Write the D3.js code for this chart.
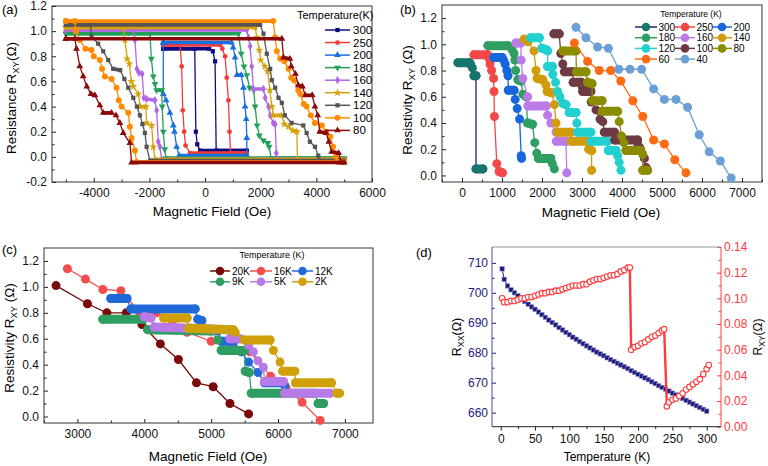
<!DOCTYPE html>
<html><head><meta charset="utf-8">
<script src="https://cdn.jsdelivr.net/npm/d3@7"></script>
<style>body{margin:0;background:#fff}svg{display:block}</style>
</head><body><script>
// ---------------- DATA ----------------
// (a) hysteresis loops
const aTemps = ['300','250','200','180','160','140','120','100','80'];
const aHmax = [1500,1500,1500,5000,5000,5000,5000,5000,5000];
const aTop = [0.86,0.89,0.91,0.98,1.01,1.03,1.05,1.08,0.94];
const aBottom = [0.05,0.03,0.01,-0.01,-0.02,-0.02,-0.03,-0.04,-0.045];
const aDown = [
 [[150,0.86],[280,0.84],[360,0.76],[400,0.05]],
 [[550,0.89],[620,0.86],[720,0.8],[780,0.63],[840,0.45],[880,0.2],[920,0.03]],
 [[950,0.91],[1010,0.87],[1080,0.79],[1150,0.65],[1300,0.65],[1380,0.55],[1440,0.4],[1480,0.3],[1500,0.15],[1500,0.01]],
 [[1200,0.98],[1300,0.82],[1400,0.72],[1500,0.65],[1600,0.55],[1750,0.53],[1800,0.4],[1870,0.25],[1950,0.17],[2100,0.13],[2250,0.11],[2300,0.08],[2380,-0.01]],
 [[1500,1.01],[1560,0.95],[1620,0.88],[1680,0.72],[1740,0.54],[2100,0.54],[2160,0.47],[2280,0.4],[2340,0.33],[2450,0.27],[2520,0.26],[2560,0.03],[2600,-0.02]],
 [[1800,1.03],[1860,0.95],[1950,0.85],[2000,0.77],[2150,0.72],[2250,0.68],[2330,0.53],[2400,0.4],[2450,0.33],[2750,0.33],[2850,0.26],[3000,0.24],[3150,0.21],[3300,0.2],[3320,-0.02]],
 [[1980,1.05],[2100,0.98],[2220,0.82],[2340,0.7],[2400,0.61],[2520,0.55],[2640,0.47],[2760,0.43],[2870,0.33],[3110,0.27],[3530,0.25],[3650,0.19],[3770,0.12],[3950,0.08],[4070,0.01],[4100,-0.03]],
 [[2450,1.08],[2520,0.95],[2580,0.84],[2700,0.78],[2850,0.76],[3000,0.7],[3100,0.63],[3200,0.61],[3350,0.53],[3420,0.5],[3550,0.42],[3650,0.4],[3800,0.33],[3950,0.27],[4200,0.25],[4350,0.2],[4500,0.16],[4600,0.08],[4700,0.0],[4750,-0.04]],
 [[2760,0.94],[2820,0.79],[3050,0.78],[3100,0.72],[3250,0.66],[3350,0.57],[3500,0.56],[3600,0.49],[3850,0.49],[3950,0.4],[4050,0.33],[4120,0.2],[4350,0.19],[4450,0.12],[4550,0.04],[4800,0.03],[4880,-0.045]]
];
const aUp = [
 [[-180,0.05],[-280,0.1],[-330,0.2],[-370,0.86]],
 [[-540,0.03],[-700,0.09],[-750,0.2],[-800,0.37],[-840,0.72],[-900,0.89]],
 [[-930,0.01],[-1020,0.08],[-1100,0.2],[-1140,0.25],[-1260,0.35],[-1400,0.45],[-1500,0.5],[-1500,0.91]],
 [[-1400,-0.01],[-1450,0.06],[-1500,0.2],[-1540,0.4],[-1560,0.53],[-1740,0.53],[-1800,0.58],[-1860,0.64],[-1930,0.78],[-1980,0.98]],
 [[-1560,-0.02],[-1620,0.08],[-1680,0.12],[-1740,0.37],[-1800,0.45],[-2100,0.46],[-2200,0.47],[-2260,0.66],[-2380,0.67],[-2450,0.7],[-2520,0.93],[-2580,1.01]],
 [[-1800,-0.02],[-1860,0.08],[-1920,0.25],[-2100,0.27],[-2130,0.4],[-2330,0.4],[-2400,0.5],[-2580,0.56],[-2650,0.6],[-2720,0.74],[-2800,0.78],[-2880,0.93],[-2940,1.03]],
 [[-1980,-0.03],[-2100,0.08],[-2160,0.19],[-2250,0.26],[-2340,0.33],[-2450,0.4],[-2580,0.47],[-2760,0.55],[-2900,0.62],[-3050,0.69],[-3300,0.7],[-3480,0.77],[-3660,0.84],[-3840,0.9],[-4080,0.96],[-4120,1.05]],
 [[-2460,-0.04],[-2520,0.05],[-2640,0.15],[-2700,0.24],[-2760,0.35],[-3000,0.4],[-3100,0.45],[-3180,0.55],[-3360,0.62],[-3600,0.64],[-3700,0.7],[-3780,0.77],[-4000,0.8],[-4080,0.85],[-4300,0.86],[-4500,0.93],[-4640,1.0],[-4680,1.08]],
 [[-2640,-0.045],[-2700,0.11],[-2940,0.19],[-3060,0.27],[-3200,0.33],[-3360,0.35],[-3660,0.35],[-3780,0.41],[-3960,0.49],[-4100,0.5],[-4250,0.56],[-4380,0.64],[-4500,0.72],[-4620,0.86],[-4680,0.94]]
];
const aXTicks = [-4000,-2000,0,2000,4000,6000];
const aXMinor = [-5000,-3000,-1000,1000,3000,5000];
const aYTicks = [-0.2,0,0.2,0.4,0.6,0.8,1.0,1.2];
const aYMinor = [-0.1,0.1,0.3,0.5,0.7,0.9,1.1];

// (b) switching curves
const bTemps = ['300','250','200','180','160','140','120','100','80','60','40'];
const b300 = [[-100,0.86],[180,0.86],[210,0.85],[260,0.82],[300,0.76],[350,0.76],[350,0.05],[520,0.05]];
const b250 = [[300,0.92],[640,0.92],[680,0.89],[700,0.85],[740,0.8],[790,0.74],[800,0.64],[810,0.45],[870,0.09],[930,0.03],[1010,0.02]];
const b200 = [[800,0.9],[1000,0.9],[1040,0.88],[1080,0.85],[1120,0.8],[1150,0.76],[1160,0.65],[1300,0.65],[1330,0.58],[1380,0.51],[1440,0.43],[1480,0.15],[1490,0.13]];
const b180 = [[650,0.99],[1150,0.99],[1250,0.96],[1300,0.93],[1320,0.88],[1340,0.8],[1400,0.73],[1480,0.72],[1520,0.62],[1600,0.6],[1640,0.4],[1760,0.39],[1820,0.25],[1870,0.17],[1910,0.13],[2220,0.13],[2260,0.09],[2310,0.05]];
const b160 = [[1350,1.01],[1470,1.01],[1480,0.88],[1520,0.74],[1640,0.6],[1650,0.53],[2100,0.53],[2140,0.46],[2220,0.4],[2350,0.33],[2360,0.26],[2600,0.26],[2620,0.02]];
const b140 = [[1550,1.04],[1650,1.02],[1800,0.95],[1850,0.8],[1880,0.74],[2020,0.73],[2100,0.69],[2130,0.64],[2250,0.63],[2310,0.54],[2350,0.4],[2390,0.33],[2720,0.33],[2730,0.26],[3140,0.26],[3170,0.2],[3240,0.19],[3240,0.04]];
const b120 = [[1720,1.05],[1930,1.05],[2000,0.97],[2100,0.96],[2140,0.95],[2140,0.83],[2260,0.83],[2270,0.77],[2340,0.71],[2390,0.64],[2450,0.6],[2520,0.55],[2600,0.54],[2680,0.48],[2850,0.48],[2870,0.4],[2890,0.33],[3220,0.33],[3230,0.26],[3640,0.26],[3660,0.19],[3850,0.19],[3890,0.15],[3930,0.1],[3975,0.04]];
const b100 = [[2300,1.08],[2430,1.08],[2470,0.93],[2520,0.85],[2560,0.79],[2770,0.79],[2780,0.71],[2980,0.71],[3010,0.67],[3020,0.64],[3220,0.64],[3230,0.56],[3350,0.5],[3450,0.43],[3520,0.41],[3560,0.33],[3810,0.33],[3820,0.27],[4390,0.27],[4400,0.23],[4450,0.21],[4560,0.13],[4600,0.06],[4620,0.05]];
const b80 = [[2520,0.95],[2850,0.95],[2860,0.79],[3100,0.79],[3140,0.71],[3250,0.7],[3260,0.57],[3500,0.57],[3510,0.49],[3890,0.49],[3930,0.41],[3990,0.3],[4050,0.25],[4100,0.19],[4470,0.19],[4520,0.16],[4520,0.04],[4640,0.04]];
const b60 = [[2810,1.01],[3140,0.87],[3430,0.8],[3720,0.8],[3970,0.72],[4270,0.57],[4520,0.45],[4790,0.27],[5060,0.24],[5320,0.12],[5600,0.02]];
const b40 = [[2850,1.13],[3100,1.05],[3390,0.98],[3660,0.97],[3920,0.81],[4200,0.81],[4490,0.81],[4790,0.66],[5060,0.58],[5350,0.58],[5640,0.52],[5930,0.31],[6180,0.18],[6460,0.11],[6730,-0.02]];
const bXTicks = [0,1000,2000,3000,4000,5000,6000,7000];
const bXMinor = [-500,500,1500,2500,3500,4500,5500,6500,7500];
const bYTicks = [0,0.2,0.4,0.6,0.8,1.0,1.2];
const bYMinor = [0.1,0.3,0.5,0.7,0.9,1.1];

// (c) low temperature switching
const cTemps = ['20K','16K','12K','9K','5K','2K'];
const c20 = [[2680,1.01],[3150,0.87],[3440,0.8],[3730,0.8],[3965,0.71],[4240,0.56],[4510,0.44],[4780,0.26],[5030,0.23],[5280,0.1],[5560,0.02]];
const c16 = [[2850,1.14],[3120,1.06],[3380,0.98],[3650,0.97],[3920,0.81],[4180,0.8],[4420,0.74],[4640,0.65],[5000,0.58],[5300,0.56],[5580,0.5],[5890,0.31],[6120,0.22],[6360,0.11],[6630,-0.03]];
const c12 = [[3500,0.91],[3740,0.91],[3800,0.83],[4760,0.83],[4800,0.75],[4860,0.74],[4900,0.68],[5100,0.66],[5160,0.58],[5340,0.58],[5450,0.5],[5560,0.42],[5700,0.34],[5800,0.26],[6080,0.26],[6100,0.24]];
const c9 = [[3380,0.75],[3980,0.75],[4050,0.67],[5000,0.66],[5100,0.59],[5150,0.51],[5500,0.51],[5510,0.35],[5570,0.34],[5600,0.18],[6550,0.18],[6600,0.1],[6680,0.1]];
const c5 = [[4000,0.77],[4100,0.76],[4150,0.69],[4700,0.68],[5250,0.67],[5280,0.6],[5430,0.6],[5560,0.55],[5630,0.5],[5700,0.43],[5780,0.38],[5800,0.27],[6080,0.27],[6100,0.18],[6780,0.18]];
const c2 = [[4290,0.76],[4640,0.76],[4660,0.68],[5330,0.67],[5360,0.65],[5500,0.59],[5880,0.59],[5930,0.51],[6030,0.42],[6070,0.35],[6250,0.35],[6260,0.26],[6800,0.26],[6880,0.18],[6920,0.18]];
const cXTicks = [3000,4000,5000,6000,7000];
const cXMinor = [2500,3500,4500,5500,6500];
const cYTicks = [0,0.2,0.4,0.6,0.8,1.0,1.2];
const cYMinor = [0.1,0.3,0.5,0.7,0.9,1.1];

// (d) temperature dependence
const dT = [2,5,10,15,20,25,30,35,40,45,50,55,60,65,70,75,80,85,90,95,100,105,110,115,120,125,130,135,140,145,150,155,160,165,170,175,180,185,190,195,200,205,210,215,220,225,230,235,240,245,250,255,260,265,270,275,280,285,290,295,300];
const dRxx = [708,704.5,702.3,701,700,699,698,697.1,696.2,695.3,694.5,693.6,692.7,691.8,690.9,690.1,689.3,688.4,687.6,686.8,686,685.2,684.5,683.7,683,682.3,681.6,680.9,680.2,679.6,679,678.3,677.7,677.1,676.5,675.9,675.3,674.7,674,673.4,672.8,672.2,671.6,671,670.3,669.7,669,668.4,667.8,667.2,666.5,665.9,665.3,664.7,664.1,663.5,662.9,662.3,661.7,661.1,660.5];
const dTxy = [2,5,10,15,20,25,30,35,40,45,50,55,60,65,70,75,80,85,90,95,100,105,110,115,120,125,130,135,140,145,150,155,160,165,170,175,180,185,188,190,195,200,205,210,215,220,225,230,235,238,242,245,250,255,260,265,270,275,280,285,290,295,300,303];
const dRxy = [0.100,0.097,0.097,0.098,0.098,0.099,0.100,0.100,0.101,0.101,0.102,0.103,0.104,0.104,0.105,0.105,0.106,0.106,0.107,0.108,0.109,0.110,0.110,0.110,0.111,0.111,0.113,0.114,0.115,0.115,0.116,0.117,0.118,0.118,0.119,0.121,0.122,0.124,0.124,0.060,0.062,0.063,0.065,0.066,0.068,0.070,0.071,0.073,0.075,0.076,0.016,0.019,0.021,0.022,0.024,0.026,0.029,0.031,0.033,0.035,0.037,0.041,0.045,0.048];
const dXTicks = [0,50,100,150,200,250,300];
const dXMinor = [25,75,125,175,225,275];
const dLTicks = [660,670,680,690,700,710];
const dLMinor = [665,675,685,695,705];
const dRTicks = [0,0.02,0.04,0.06,0.08,0.10,0.12,0.14];
const dRMinor = [0.01,0.03,0.05,0.07,0.09,0.11,0.13];

// ---------------- DRAW ----------------
const FONT = '"Liberation Sans", Arial, Helvetica, sans-serif';
const svg = d3.select('body').append('svg').attr('width',768).attr('height',466)
  .attr('font-family',FONT);

function txt(x,y,s,o={}){
  const t = svg.append('text').attr('x',x).attr('y',y).text(s)
    .attr('font-size',o.fs||12).attr('fill',o.fill||'#000').attr('text-anchor',o.anchor||'start');
  return t;
}
function subTitle(x,y,parts,fs,rot){
  const t = svg.append('text').attr('transform',`translate(${x},${y})${rot?' rotate(-90)':''}`)
    .attr('text-anchor','middle').attr('font-size',fs).attr('fill','#000');
  parts.forEach(p=>{
    const ts = t.append('tspan').text(p.t);
    if(p.sub){ ts.attr('font-size',fs*0.7).attr('dy',fs*0.25); }
    if(p.after){ ts.attr('dy',-fs*0.25); }
  });
}
function box(p){
  const g = svg.append('g');
  const [xl,xr] = p.x.range(), [yb,yt] = p.y.range();
  const s = p.inward ? -1 : 1;
  g.append('g').attr('transform',`translate(0,${yb})`)
    .call(d3.axisBottom(p.x).tickValues(p.xt).tickFormat(p.xf).tickSize(4*s).tickPadding(p.xpad||6));
  g.append('g').attr('transform',`translate(0,${yb})`)
    .call(d3.axisBottom(p.x).tickValues(p.xm).tickFormat('').tickSize(2.5*s));
  g.append('g').attr('transform',`translate(${xl},0)`)
    .call(d3.axisLeft(p.y).tickValues(p.yt).tickFormat(p.yf).tickSize(4*s).tickPadding(p.ypad||5));
  g.append('g').attr('transform',`translate(${xl},0)`)
    .call(d3.axisLeft(p.y).tickValues(p.ym).tickFormat('').tickSize(2.5*s));
  g.selectAll('.domain').remove();
  g.selectAll('.tick line').attr('stroke','#222');
  g.selectAll('.tick text').attr('font-size',p.fs||12).attr('font-family',FONT).attr('fill','#111');
  g.append('rect').attr('x',xl).attr('y',yt).attr('width',xr-xl).attr('height',yb-yt)
    .attr('fill','none').attr('stroke','#333').attr('stroke-width',1);
  return g;
}
const f1 = d=>d.toFixed(1);
const fi = d=>String(d);

// ===== Panel (a) =====
const xa = d3.scaleLinear().domain([-5500,6000]).range([52,372]);
const ya = d3.scaleLinear().domain([-0.2,1.2]).range([182,6]);
box({x:xa,y:ya,xt:aXTicks,xm:aXMinor,yt:aYTicks,ym:aYMinor,xf:fi,yf:f1,inward:true,fs:12,xpad:6});
const aColors = ['#0d0d80','#f23c3c','#1a6fe0','#22a05a','#b266e6','#d4a20a','#555555','#ff8a00','#8b0a0a'];
const aSym = [d3.symbolSquare,d3.symbolCircle,d3.symbolTriangle,d3.symbolTriangle,d3.symbolDiamond,d3.symbolStar,d3.symbolSquare,d3.symbolCircle,d3.symbolTriangle];
const aRot = [0,0,0,180,0,0,0,0,0];
const aSize = [18,18,20,20,20,22,18,28,20];
const ga = svg.append('g');
aTemps.forEach((t,i)=>{
  const pts = [[-aHmax[i],aTop[i]], ...aDown[i], [aHmax[i],aBottom[i]], ...aUp[i], [-aHmax[i],aTop[i]]];
  const P = pts.map(p=>[xa(p[0]),ya(p[1])]);
  const g = ga.append('g');
  for(let k=0;k<P.length-1;k++){
    if(Math.abs(P[k][1]-P[k+1][1])<2.2){
      g.append('line').attr('x1',P[k][0]).attr('y1',P[k][1]).attr('x2',P[k+1][0]).attr('y2',P[k+1][1])
        .attr('stroke',aColors[i]).attr('stroke-width',3.6).attr('stroke-linecap','round');
    }
  }
  g.append('path').attr('d',d3.line()(P)).attr('fill','none').attr('stroke',aColors[i]).attr('stroke-width',1.3);
  const sym = d3.symbol().type(aSym[i]).size(aSize[i]);
  g.selectAll(null).data(P).enter().append('path').attr('d',sym)
    .attr('transform',d=>`translate(${d[0]},${d[1]}) rotate(${aRot[i]})`).attr('fill',aColors[i]);
});
// legend (a)
txt(297,19,'Temperature(K)',{fs:11});
aTemps.forEach((t,i)=>{
  const yy = 30 + i*12.55;
  svg.append('line').attr('x1',325).attr('x2',350).attr('y1',yy).attr('y2',yy).attr('stroke',aColors[i]).attr('stroke-width',1.5);
  svg.append('path').attr('d',d3.symbol().type(aSym[i]).size(aSize[i]))
    .attr('transform',`translate(337.5,${yy}) rotate(${aRot[i]})`).attr('fill',aColors[i]);
  txt(353,yy+4,t,{fs:11.5});
});
txt(2,14,'(a)',{fs:13});
subTitle(16,98,[{t:'Resistance R'},{t:'XY',sub:true},{t:'(Ω)',after:true}],13.5,true);
subTitle(212,216,[{t:'Magnetic Field (Oe)'}],13.5,false);

// ===== Panel (b) =====
const xb = d3.scaleLinear().domain([-500,7500]).range([442,762]);
const yb = d3.scaleLinear().domain([-0.05,1.3]).range([182,5]);
box({x:xb,y:yb,xt:bXTicks,xm:bXMinor,yt:bYTicks,ym:bYMinor,xf:fi,yf:f1,inward:true,fs:12,xpad:6});
const bSeries = [b300,b250,b200,b180,b160,b140,b120,b100,b80,b60,b40];
const bColors = ['#17756e','#f24848','#1766dc','#2e9e62','#bb7ce8','#d09c0c','#22d0d0','#6e3b44','#8c8c00','#ff6a14','#6c9fd6'];
const bLineCol = ['#1a237e','#f24848','#1766dc','#2e9e62','#bb7ce8','#d09c0c','#22d0d0','#6e3b44','#8c8c00','#ff6a14','#6c9fd6'];
const bSparse = ['60','40'];
function drawDots(g,pts,x,y,col,lineCol,dense,r){
  const P = pts.map(p=>[x(p[0]),y(p[1])]);
  g.append('path').attr('d',d3.line()(P)).attr('fill','none').attr('stroke',lineCol).attr('stroke-width',1.3);
  if(dense){
    for(let k=0;k<P.length-1;k++){
      if(Math.abs(P[k][1]-P[k+1][1])<1.5){
        g.append('line').attr('x1',P[k][0]).attr('y1',P[k][1]).attr('x2',P[k+1][0]).attr('y2',P[k+1][1])
          .attr('stroke',col).attr('stroke-width',2*r).attr('stroke-linecap','round');
      }
    }
  }
  g.selectAll(null).data(P).enter().append('circle').attr('cx',d=>d[0]).attr('cy',d=>d[1]).attr('r',r).attr('fill',col);
}
const gb = svg.append('g');
bTemps.forEach((t,i)=>{
  drawDots(gb.append('g'),bSeries[i],xb,yb,bColors[i],bLineCol[i],!bSparse.includes(t),4.5);
});
// legend (b)
txt(691,17,'Temperature (K)',{fs:8.5,anchor:'middle'});
const bColX = [[635,657],[675,695],[712,732]];
bTemps.forEach((t,i)=>{
  const c = i%3, r = Math.floor(i/3);
  const yy = 27 + r*10.7;
  const [x1,x2] = bColX[c];
  svg.append('line').attr('x1',x1).attr('x2',x2).attr('y1',yy).attr('y2',yy).attr('stroke',bLineCol[i]).attr('stroke-width',1.5);
  svg.append('circle').attr('cx',(x1+x2)/2).attr('cy',yy).attr('r',4.3).attr('fill',bColors[i]);
  txt(x2+1.5,yy+3.6,t,{fs:10});
});
txt(400,14,'(b)',{fs:13});
subTitle(412,100,[{t:'Resistivity R'},{t:'XY',sub:true},{t:' (Ω)',after:true}],13.5,true);
subTitle(601,217,[{t:'Magnetic Field (Oe)'}],13.5,false);

// ===== Panel (c) =====
const xc = d3.scaleLinear().domain([2500,7420]).range([44,373]);
const yc = d3.scaleLinear().domain([-0.05,1.3]).range([423,248]);
box({x:xc,y:yc,xt:cXTicks,xm:cXMinor,yt:cYTicks,ym:cYMinor,xf:fi,yf:f1,inward:true,fs:12,xpad:6});
const cSeries = [c20,c16,c12,c9,c5,c2];
const cColors = ['#7b0a0a','#f24e4e','#1f6ad8','#2f9e63','#b87ae6','#cfa00a'];
const cSparse = ['20K','16K'];
const gc = svg.append('g');
cTemps.forEach((t,i)=>{
  drawDots(gc.append('g'),cSeries[i],xc,yc,cColors[i],cColors[i],!cSparse.includes(t),4.5);
});
txt(272,258,'Temperature (K)',{fs:9,anchor:'middle'});
const cColX = [[210,230],[250,272],[292,313]];
cTemps.forEach((t,i)=>{
  const c = i%3, r = Math.floor(i/3);
  const yy = 271 + r*10.8;
  const [x1,x2] = cColX[c];
  svg.append('line').attr('x1',x1).attr('x2',x2).attr('y1',yy).attr('y2',yy).attr('stroke',cColors[i]).attr('stroke-width',1.5);
  svg.append('circle').attr('cx',(x1+x2)/2).attr('cy',yy).attr('r',4.3).attr('fill',cColors[i]);
  txt(x2+2,yy+3.6,t,{fs:10});
});
txt(2,254,'(c)',{fs:13});
subTitle(14,338,[{t:'Resistivity R'},{t:'XY',sub:true},{t:' (Ω)',after:true}],13.5,true);
subTitle(208,461,[{t:'Magnetic Field (Oe)'}],13.5,false);

// ===== Panel (d) =====
const xd = d3.scaleLinear().domain([-12.7,320.8]).range([492,721]);
const yl = d3.scaleLinear().domain([655.3,715.3]).range([426.7,247]);
const yr = d3.scaleLinear().domain([0,0.14]).range([426.7,247]);
const navy = '#1b1b7e', red = '#ff3b3b';
{
  const g = svg.append('g');
  const ax = (gen,ticks,fmt,size,pad)=>gen.tickValues(ticks).tickFormat(fmt).tickSize(size).tickPadding(pad);
  g.append('g').attr('transform','translate(0,426.7)').call(ax(d3.axisBottom(xd),dXTicks,fi,4,4));
  g.append('g').attr('transform','translate(0,426.7)').call(ax(d3.axisBottom(xd),dXMinor,'',2.5,0));
  const gl = g.append('g').attr('transform','translate(492,0)').call(ax(d3.axisLeft(yl),dLTicks,fi,-4,4));
  const glm = g.append('g').attr('transform','translate(492,0)').call(ax(d3.axisLeft(yl),dLMinor,'',-2.5,0));
  const gr = g.append('g').attr('transform','translate(721,0)').call(ax(d3.axisRight(yr),dRTicks,d=>d.toFixed(2),-4,3));
  const grm = g.append('g').attr('transform','translate(721,0)').call(ax(d3.axisRight(yr),dRMinor,'',-2.5,0));
  g.selectAll('.domain').remove();
  g.selectAll('.tick text').attr('font-size',12).attr('font-family',FONT).attr('fill','#111');
  g.selectAll('.tick line').attr('stroke','#222');
  gl.selectAll('.tick text').attr('fill',navy); gl.selectAll('.tick line').attr('stroke',navy); glm.selectAll('.tick line').attr('stroke',navy);
  gr.selectAll('.tick text').attr('fill',red); gr.selectAll('.tick line').attr('stroke',red); grm.selectAll('.tick line').attr('stroke',red);
  g.append('line').attr('x1',492).attr('x2',721).attr('y1',247).attr('y2',247).attr('stroke','#999');
  g.append('line').attr('x1',492).attr('x2',721).attr('y1',426.7).attr('y2',426.7).attr('stroke','#222');
  g.append('line').attr('x1',492).attr('x2',492).attr('y1',247).attr('y2',426.7).attr('stroke','#4a4ab0');
  g.append('line').attr('x1',721).attr('x2',721).attr('y1',247).attr('y2',426.7).attr('stroke',red);
}
const gd = svg.append('g');
const Pxx = dT.map((t,i)=>[xd(t),yl(dRxx[i])]);
gd.append('path').attr('d',d3.line()(Pxx)).attr('fill','none').attr('stroke',navy).attr('stroke-width',1);
gd.selectAll(null).data(Pxx).enter().append('rect').attr('x',d=>d[0]-2.2).attr('y',d=>d[1]-2.2)
  .attr('width',4.4).attr('height',4.4).attr('fill',navy).attr('stroke','#8f8fc4').attr('stroke-width',0.6);
const Pxy = dTxy.map((t,i)=>[xd(t),yr(dRxy[i])]);
gd.append('path').attr('d',d3.line()(Pxy)).attr('fill','none').attr('stroke',red).attr('stroke-width',2.4);
gd.selectAll(null).data(Pxy).enter().append('circle').attr('cx',d=>d[0]).attr('cy',d=>d[1]).attr('r',2.8)
  .attr('fill','#fff').attr('stroke',red).attr('stroke-width',1.1);
txt(416,257,'(d)',{fs:13});
subTitle(461,337,[{t:'R'},{t:'XX',sub:true},{t:'(Ω)',after:true}],12.5,true);
subTitle(762,337,[{t:'R'},{t:'XY',sub:true},{t:'(Ω)',after:true}],12,true);
subTitle(607,461,[{t:'Temperature (K)'}],12,false);
</script></body></html>
